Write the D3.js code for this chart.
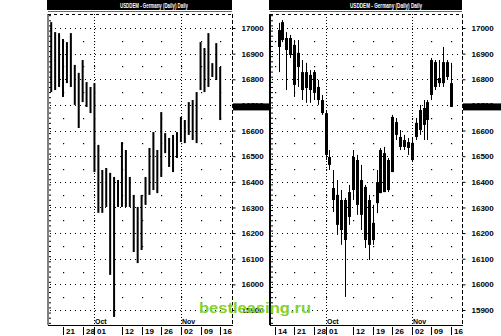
<!DOCTYPE html>
<html>
<head>
<meta charset="utf-8">
<script src="https://cdn.jsdelivr.net/npm/d3@7"></script>
<style>
  body { margin: 0; background: #fff; }
  svg { display: block; font-family: "Liberation Sans", Arial, sans-serif; }
</style>
</head>
<body>
<svg id="drawing_region" width="501" height="336"></svg>
<script>
// trading days, Sep 14 - Nov 19 1998
const days = ["09-14","09-15","09-16","09-17","09-18","09-21","09-22","09-23","09-24","09-25",
  "09-28","09-29","09-30","10-01","10-02","10-05","10-06","10-07","10-08","10-09",
  "10-12","10-13","10-14","10-15","10-16","10-19","10-20","10-21","10-22","10-23",
  "10-26","10-27","10-28","10-29","10-30","11-02","11-03","11-04","11-05","11-06",
  "11-09","11-10","11-11","11-12","11-13","11-16","11-17","11-18","11-19"];

const yTicks = [15900,16000,16100,16200,16300,16400,16500,16600,16700,16800,16900,17000];
const yHalf = [15950,16050,16150,16250,16350,16450,16550,16650,16750,16850,16950];

const leftTickDays = ["09-21","09-28","10-01","10-12","10-19","10-26","11-02","11-09","11-16"];
const leftTickLabels = ["21","28","01","12","19","26","02","09","16"];
const rightTickDays = ["09-14","09-21","09-28","10-01","10-12","10-19","10-26","11-02","11-09","11-16"];
const rightTickLabels = ["14","21","28","01","12","19","26","02","09","16"];
const monthDays = ["10-01","11-02"];
const monthLabels = ["Oct","Nov"];

// left panel: high / low bars, Sep 16 .. Nov 16
const leftDates = days.slice(2, 46);
const leftHigh = [17023,16984,16980,16957,16945,16980,16856,16825,16875,16789,
  16770,16785,16544,16446,16454,16435,16419,16407,16555,16524,
  16419,16349,16302,16349,16419,16532,16594,16524,16672,16590,
  16571,16583,16594,16653,16641,16711,16719,16750,16945,16922,
  16980,16863,16941,16848];
const leftLow = [16750,16758,16770,16731,16785,16770,16700,16610,16711,16692,
  16668,16438,16279,16279,16302,16037,15873,16302,16302,16302,
  16302,16126,16083,16134,16310,16349,16368,16356,16419,16512,
  16458,16438,16493,16555,16551,16583,16563,16551,16758,16750,
  16770,16809,16797,16641];

// right panel: candles, Sep 15 .. Nov 16
const rightDates = days.slice(1, 46);
const rightOpen = [16992,16953,16961,16895,16934,16848,16828,16766,16817,16747,
  16770,16719,16668,16497,16376,16349,16329,16329,16263,16368,
  16485,16407,16380,16329,16173,16317,16356,16360,16485,16438,
  16633,16575,16563,16555,16552,16575,16602,16688,16641,16739,
  16867,16785,16785,16867,16785];
const rightClose = [16926,17023,16914,16961,16778,16903,16758,16828,16758,16828,
  16719,16668,16505,16466,16329,16232,16212,16173,16360,16497,
  16310,16271,16173,16154,16240,16399,16524,16512,16368,16653,
  16583,16536,16536,16532,16485,16630,16680,16622,16711,16875,
  16770,16805,16867,16809,16692];
const rightHigh = [17020,17031,16984,16973,16953,16953,16875,16864,16836,16836,
  16797,16739,16680,16524,16446,16407,16368,16337,16388,16524,
  16505,16466,16388,16349,16310,16446,16532,16536,16493,16661,
  16649,16602,16583,16571,16575,16649,16700,16719,16719,16883,
  16875,16875,16926,16875,16864];
const rightLow = [16828,16945,16758,16883,16731,16770,16719,16708,16708,16719,
  16700,16661,16485,16446,16282,16193,16154,15951,16232,16329,
  16271,16212,16142,16095,16154,16278,16356,16360,16360,16438,
  16563,16524,16524,16505,16477,16563,16583,16563,16563,16719,
  16758,16770,16770,16797,16692];

const lastPrice = 16700;

const svg = d3.select('#drawing_region');

const yscale = d3.scaleLinear().domain([15900, 17000]).range([310, 28]);

function drawPanel(cfg) {
  const g = svg.append('g');
  const step = cfg.step;
  const xscale = d3.scalePoint()
    .domain(days)
    .range([cfg.day0, cfg.day0 + step * (days.length - 1)]);

  const top = 14, bottom = 325;

  // title bar
  g.append('rect')
    .attr('x', cfg.x0 - 1).attr('y', 0)
    .attr('width', cfg.x1 - cfg.x0 + 1).attr('height', 10)
    .attr('fill', '#000');
  g.append('text')
    .attr('x', cfg.titleX).attr('y', 7.5)
    .attr('fill', '#fff')
    .attr('font-size', 7).attr('font-weight', 'bold')
    .attr('textLength', cfg.titleW).attr('lengthAdjust', 'spacingAndGlyphs')
    .text('USDDEM - Germany (Daily) Daily');
  g.append('line')
    .attr('x1', cfg.x0).attr('x2', cfg.x1)
    .attr('y1', 11.5).attr('y2', 11.5)
    .attr('stroke', '#000').attr('stroke-width', 0.6);

  // grid: dotted rows at 100s, sparse dots at 50s
  g.selectAll('.hgrid').data(yTicks).join('line')
    .attr('x1', cfg.x0 + 2).attr('x2', cfg.x1)
    .attr('y1', d => Math.round(yscale(d)) + 0.5).attr('y2', d => Math.round(yscale(d)) + 0.5)
    .attr('stroke', '#000').attr('stroke-width', 1)
    .attr('stroke-dasharray', '1,4');
  yHalf.forEach(v => {
    g.selectAll(null).data(cfg.tickDays).join('rect')
      .attr('x', d => Math.round(xscale(d)))
      .attr('y', Math.round(yscale(v)))
      .attr('width', 1.2).attr('height', 1.2)
      .attr('fill', '#000');
  });
  g.selectAll('.vgrid').data(monthDays).join('line')
    .attr('x1', d => Math.round(xscale(d)) + 0.5).attr('x2', d => Math.round(xscale(d)) + 0.5)
    .attr('y1', top).attr('y2', bottom)
    .attr('stroke', '#000').attr('stroke-width', 1)
    .attr('stroke-dasharray', '1,2');

  // borders
  g.append('line')
    .attr('x1', cfg.x0).attr('x2', cfg.x1).attr('y1', top + 0.5).attr('y2', top + 0.5)
    .attr('stroke', '#000').attr('stroke-dasharray', '3,3');
  g.append('line')
    .attr('x1', cfg.x0).attr('x2', cfg.x0).attr('y1', top).attr('y2', bottom)
    .attr('stroke', '#000').attr('stroke-width', cfg.leftLine);
  g.append('line')
    .attr('x1', cfg.x1 + 0.5).attr('x2', cfg.x1 + 0.5).attr('y1', top).attr('y2', bottom)
    .attr('stroke', '#000').attr('stroke-dasharray', '4,2');

  // left ruler
  const ruler = d3.axisRight(yscale)
    .tickValues(d3.range(15850, 17060, 20))
    .tickSize(2).tickFormat('');
  g.append('g')
    .attr('transform', `translate(${cfg.x0 + 1},0)`)
    .call(ruler)
    .call(s => s.select('.domain').remove());

  // right axis
  const yaxis = d3.axisRight(yscale)
    .tickValues(yTicks)
    .tickSize(3).tickPadding(6)
    .tickFormat(d3.format('d'));
  g.append('g')
    .attr('transform', `translate(${cfg.x1 + 0.5},0)`)
    .call(yaxis)
    .call(s => s.select('.domain').remove())
    .call(s => s.selectAll('text').attr('font-size', 8).attr('font-weight', 'bold')
      .attr('font-family', '"Liberation Sans", Arial, sans-serif'));

  // bottom axis
  g.append('line')
    .attr('x1', cfg.x0).attr('x2', cfg.x1 + 1).attr('y1', bottom + 0.5).attr('y2', bottom + 0.5)
    .attr('stroke', '#000');
  const xt = g.selectAll('.xt').data(cfg.tickDays).join('g')
    .attr('transform', d => `translate(${Math.round(xscale(d)) + 0.5},0)`);
  xt.append('line')
    .attr('y1', bottom + 2).attr('y2', bottom + 10)
    .attr('stroke', '#000');
  xt.append('text')
    .attr('x', 2.5).attr('y', bottom + 9)
    .attr('font-size', 8).attr('font-weight', 'bold')
    .text((d, i) => cfg.tickLabels[i]);
  g.selectAll('.mt').data(monthDays).join('text')
    .attr('x', d => Math.round(xscale(d)) + 1).attr('y', bottom - 1.5)
    .attr('font-size', 7).attr('font-weight', 'bold')
    .text((d, i) => monthLabels[i]);

  // last price marker
  g.append('rect')
    .attr('x', cfg.x1 + 1).attr('y', yscale(lastPrice) - 1.5)
    .attr('width', cfg.markW).attr('height', 7)
    .attr('fill', '#000');

  return xscale;
}

// left panel
const xl = drawPanel({
  x0: 48, x1: 232, day0: 43.35, step: 3.93, leftLine: 1,
  titleX: 120, titleW: 68, markW: 36,
  tickDays: leftTickDays, tickLabels: leftTickLabels
});
svg.append('g').selectAll('rect').data(leftDates).join('rect')
  .attr('x', d => xl(d) - 1)
  .attr('y', (d, i) => yscale(leftHigh[i]))
  .attr('width', 2)
  .attr('height', (d, i) => yscale(leftLow[i]) - yscale(leftHigh[i]))
  .attr('fill', '#000');

// right panel
const xr = drawPanel({
  x0: 270, x1: 462, day0: 274.6, step: 3.92, leftLine: 2,
  titleX: 350, titleW: 72, markW: 40,
  tickDays: rightTickDays, tickLabels: rightTickLabels
});
const candles = svg.append('g');
candles.selectAll('line').data(rightDates).join('line')
  .attr('x1', d => Math.round(xr(d)) + 0.5).attr('x2', d => Math.round(xr(d)) + 0.5)
  .attr('y1', (d, i) => yscale(rightHigh[i]))
  .attr('y2', (d, i) => yscale(rightLow[i]))
  .attr('stroke', '#000').attr('stroke-width', 1);
candles.selectAll('rect').data(rightDates).join('rect')
  .attr('x', d => Math.round(xr(d)) - 1)
  .attr('y', (d, i) => yscale(Math.max(rightOpen[i], rightClose[i])))
  .attr('width', 3)
  .attr('height', (d, i) => Math.max(1, Math.abs(yscale(rightOpen[i]) - yscale(rightClose[i]))))
  .attr('fill', '#000');

// watermark
svg.append('text')
  .attr('x', 199).attr('y', 313)
  .attr('font-size', 15).attr('font-weight', 'bold')
  .attr('fill', '#86d02c')
  .attr('textLength', 112).attr('lengthAdjust', 'spacingAndGlyphs')
  .text('bestleasing.ru');
</script>
</body>
</html>
